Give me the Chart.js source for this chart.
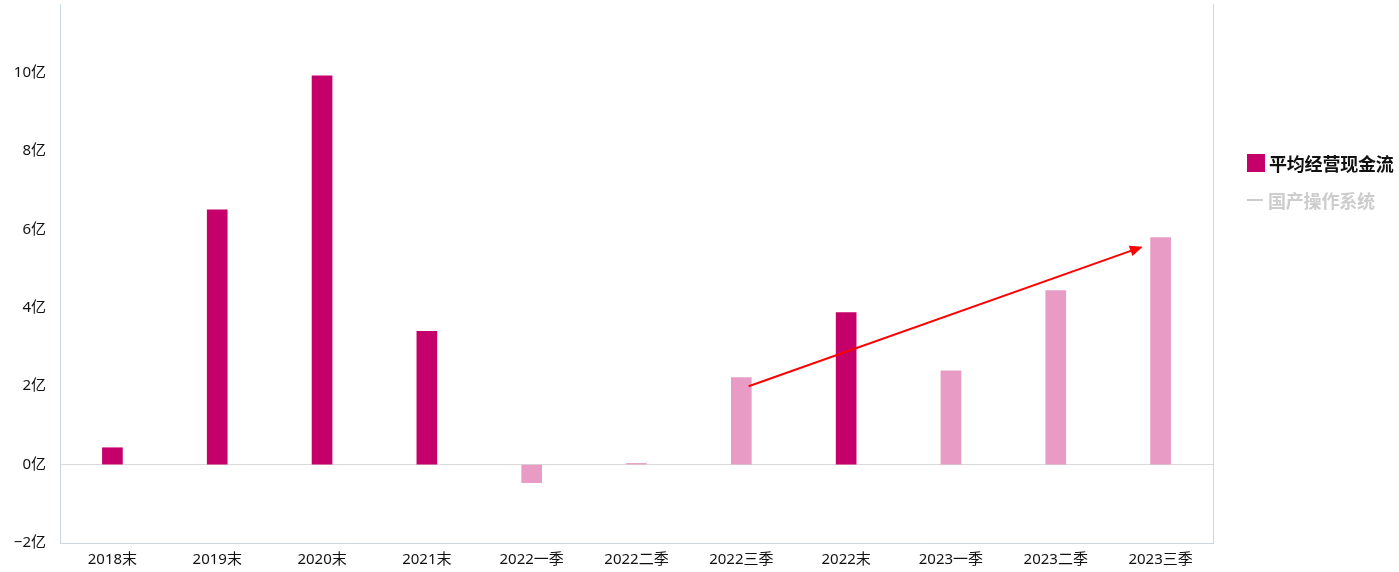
<!DOCTYPE html>
<html>
<head>
<meta charset="utf-8">
<script src="https://cdn.jsdelivr.net/npm/chart.js@4"></script>
<style>
  html, body { margin: 0; padding: 0; background: #fff; }
  #wrap { position: relative; width: 1399px; height: 572px; overflow: hidden; }
  #chart { position: absolute; left: 0; top: -19px; }
  #legend { position: absolute; left: 1247px; top: 150px; font-family: "Noto Sans CJK SC", sans-serif; font-weight: bold; font-size: 18px; letter-spacing: -0.2px; }
  .item { display: flex; align-items: center; height: 26px; margin-bottom: 11px; white-space: nowrap; }
  .box { width: 18px; height: 18px; background: #C5006A; margin-right: 4px; }
  .dash { width: 16px; height: 2px; background: #cccccc; margin-right: 5px; }
</style>
</head>
<body>
<div id="wrap">
  <canvas id="chart" width="1399" height="591"></canvas>
  <div id="legend">
    <div class="item" style="color:#111"><span class="box"></span>平均经营现金流</div>
    <div class="item" style="color:#cccccc"><span class="dash"></span>国产操作系统</div>
  </div>
</div>
<script>
// data
const categories = ['2018末', '2019末', '2020末', '2021末', '2022一季', '2022二季', '2022三季', '2022末', '2023一季', '2023二季', '2023三季'];
const cashFlow = [0.43, 6.5, 9.92, 3.4, -0.46, 0.03, 2.22, 3.88, 2.39, 4.44, 5.79];
const yTicks = [-2, 0, 2, 4, 6, 8, 10];
// trend arrow, in category index / value units
const arrowFrom = [6.07, 2.0];
const arrowTo = [9.83, 5.56];

const DARK = '#C5006A';
const LIGHT = '#E89BC4';
const barColors = categories.map(c => c.endsWith('末') ? DARK : LIGHT);

// red arrow on top of the bars
const arrowPlugin = {
  id: 'arrow',
  afterDatasetsDraw(chart) {
    const { ctx, scales: { x, y } } = chart;
    const x1 = x.getPixelForValue(arrowFrom[0]), y1 = y.getPixelForValue(arrowFrom[1]);
    const x2 = x.getPixelForValue(arrowTo[0]), y2 = y.getPixelForValue(arrowTo[1]);
    const ang = Math.atan2(y2 - y1, x2 - x1);
    const head = 14;
    ctx.save();
    ctx.strokeStyle = '#FF0000';
    ctx.fillStyle = '#FF0000';
    ctx.lineWidth = 2;
    ctx.beginPath();
    ctx.moveTo(x1, y1);
    ctx.lineTo(x2 - head * 0.8 * Math.cos(ang), y2 - head * 0.8 * Math.sin(ang));
    ctx.stroke();
    ctx.beginPath();
    ctx.moveTo(x2, y2);
    ctx.lineTo(x2 - head * Math.cos(ang - 0.4), y2 - head * Math.sin(ang - 0.4));
    ctx.lineTo(x2 - head * Math.cos(ang + 0.4), y2 - head * Math.sin(ang + 0.4));
    ctx.closePath();
    ctx.fill();
    ctx.restore();
  }
};

Chart.defaults.font.family = '"Noto Sans", "Noto Sans CJK SC", sans-serif';
Chart.defaults.animation = false;

new Chart(document.getElementById('chart'), {
  type: 'bar',
  data: {
    labels: categories,
    datasets: [{
      label: '平均经营现金流',
      data: cashFlow,
      backgroundColor: barColors,
      barThickness: 20
    }]
  },
  options: {
    responsive: false,
    layout: { padding: { left: 0, right: 186, top: 0, bottom: 0 } },
    plugins: {
      legend: { display: false },
      tooltip: { enabled: false }
    },
    scales: {
      x: {
        grid: { display: false },
        border: { color: '#d0d6de' },
        ticks: { color: '#111', font: { size: 15 }, padding: 0, maxRotation: 0 },
        afterFit(s) { s.height = 29; }
      },
      y: {
        min: -2,
        max: 11.75,
        afterBuildTicks(s) { s.ticks = yTicks.map(v => ({ value: v })); },
        afterFit(s) { s.width = 60; },
        ticks: {
          color: '#111',
          font: { size: 15 },
          padding: 14,
          callback: v => String(v).replace('-', '−') + '亿'
        },
        grid: {
          drawTicks: false,
          color: ctx => ctx.tick && ctx.tick.value === 0 ? '#d9d9d9' : 'rgba(0,0,0,0)'
        },
        border: { color: '#c8d4e8' }
      },
      y2: {
        position: 'right',
        min: -2,
        max: 11.75,
        ticks: { display: false },
        grid: { display: false, drawTicks: false },
        border: { color: '#c8d4e8' },
        afterFit(s) { s.width = 0; }
      }
    }
  },
  plugins: [arrowPlugin]
});
</script>
</body>
</html>
